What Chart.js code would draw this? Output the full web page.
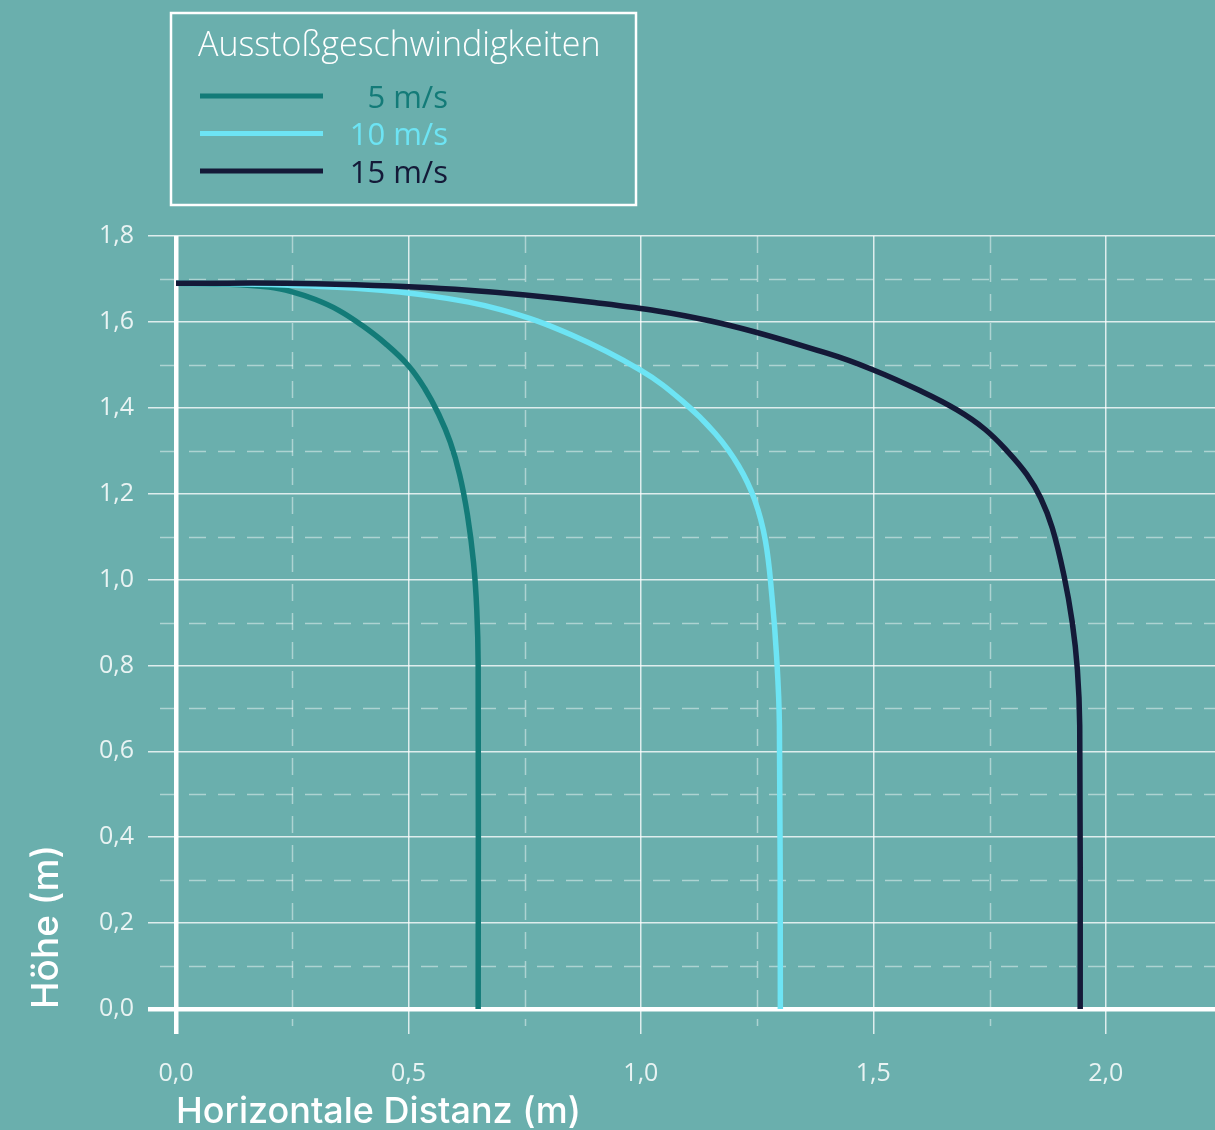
<!DOCTYPE html>
<html><head><meta charset="utf-8">
<script src="https://cdn.jsdelivr.net/npm/chart.js@4.4.1/dist/chart.umd.min.js"></script>
<style>html,body{margin:0;padding:0;background:#6aafad;}canvas{display:block}</style>
</head><body>
<canvas id="c" width="1215" height="1130"></canvas>
<script>
const legendTitle = 'Ausstoßgeschwindigkeiten';
const seriesLabels = ['5 m/s', '10 m/s', '15 m/s'];
const seriesColors = ['#137b78', '#6de4f4', '#141a38'];
const xTitle = 'Horizontale Distanz (m)';
const yTitle = 'Höhe (m)';
const xTicks = [0, 0.5, 1.0, 1.5, 2.0];
const xTickLabels = ['0,0', '0,5', '1,0', '1,5', '2,0'];
const yTicks = [0, 0.2, 0.4, 0.6, 0.8, 1.0, 1.2, 1.4, 1.6, 1.8];
const yTickLabels = ['0,0', '0,2', '0,4', '0,6', '0,8', '1,0', '1,2', '1,4', '1,6', '1,8'];
const xMinor = [0.25, 0.75, 1.25, 1.75];
const yMinor = [0.1, 0.3, 0.5, 0.7, 0.9, 1.1, 1.3, 1.5, 1.7];

// 5 m/s
const v5x = [0, 0.10, 0.20, 0.25, 0.30, 0.35, 0.40, 0.45, 0.50, 0.535, 0.565, 0.590, 0.610, 0.627, 0.640, 0.647, 0.650, 0.650];
const v5y = [1.69, 1.688, 1.681, 1.670, 1.652, 1.627, 1.592, 1.550, 1.498, 1.445, 1.385, 1.320, 1.245, 1.150, 1.040, 0.930, 0.800, 0.0];
// 10 m/s
const v10x = [0, 0.20, 0.40, 0.55, 0.70, 0.85, 1.00, 1.09, 1.16, 1.21, 1.245, 1.268, 1.282, 1.292, 1.298, 1.300];
const v10y = [1.69, 1.687, 1.677, 1.660, 1.628, 1.570, 1.487, 1.415, 1.340, 1.265, 1.185, 1.090, 0.960, 0.820, 0.660, 0.0];
// 15 m/s
const v15x = [0, 0.30, 0.60, 0.90, 1.15, 1.40, 1.50, 1.60, 1.68, 1.74, 1.79, 1.83, 1.86, 1.885, 1.910, 1.928, 1.939, 1.944, 1.945];
const v15y = [1.69, 1.689, 1.676, 1.645, 1.602, 1.527, 1.488, 1.440, 1.395, 1.350, 1.297, 1.245, 1.190, 1.120, 1.010, 0.900, 0.790, 0.660, 0.0];

const toPts = (xs, ys) => xs.map((x, i) => ({x: x, y: ys[i]}));
const seriesX = [v5x, v10x, v15x];
const seriesY = [v5y, v10y, v15y];

const tickFont = {family: '"Open Sans"', size: 25, weight: '400'};
const tickColor = 'rgba(255,255,255,0.85)';
const gridColor = (c) => (c.tick && c.tick.value === 0) ? '#ffffff' : 'rgba(255,255,255,0.78)';
const gridWidth = (c) => (c.tick && c.tick.value === 0) ? 4.5 : 1.5;

const minorGrid = {
  id: 'minorGrid',
  beforeDraw(chart) {
    const {ctx, chartArea: a, scales: {x, y}} = chart;
    ctx.save();
    ctx.strokeStyle = 'rgba(255,255,255,0.45)';
    ctx.lineWidth = 1.5;
    ctx.setLineDash([17, 12]);
    xMinor.forEach(v => {
      const px = Math.round(x.getPixelForValue(v)) + 0.5;
      ctx.beginPath(); ctx.moveTo(px, a.top); ctx.lineTo(px, a.bottom + 17); ctx.stroke();
    });
    yMinor.forEach(v => {
      const py = Math.round(y.getPixelForValue(v)) + 0.5;
      ctx.beginPath(); ctx.moveTo(a.left - 16, py); ctx.lineTo(a.right, py); ctx.stroke();
    });
    ctx.restore();
  }
};

const boxLegend = {
  id: 'boxLegend',
  afterDraw(chart) {
    const ctx = chart.ctx;
    ctx.save();
    ctx.strokeStyle = '#ffffff';
    ctx.lineWidth = 2.5;
    ctx.strokeRect(171, 13, 465, 192);
    ctx.fillStyle = '#ffffff';
    ctx.font = '300 34px "Open Sans"';
    ctx.textBaseline = 'alphabetic';
    ctx.textAlign = 'left';
    ctx.fillText(legendTitle, 198, 56);
    chart.data.datasets.forEach((ds, i) => {
      const yy = 96 + i * 37.5;
      ctx.strokeStyle = ds.borderColor;
      ctx.lineWidth = 5;
      ctx.beginPath(); ctx.moveTo(200, yy); ctx.lineTo(323, yy); ctx.stroke();
      ctx.fillStyle = ds.borderColor;
      ctx.font = '400 31px "Open Sans"';
      ctx.textAlign = 'right';
      ctx.fillText(ds.label, 448, yy + 11.5);
    });
    ctx.restore();
  }
};

const datasets = seriesLabels.map((lab, i) => ({
  label: lab,
  data: toPts(seriesX[i], seriesY[i]),
  borderColor: seriesColors[i],
  backgroundColor: seriesColors[i],
  borderWidth: 5.5,
  pointRadius: 0,
  showLine: true,
  fill: false,
  tension: 0.4,
  order: 2 - i
}));

new Chart(document.getElementById('c'), {
  type: 'scatter',
  data: {datasets},
  plugins: [minorGrid, boxLegend],
  options: {
    responsive: false,
    animation: false,
    layout: {padding: {top: 236, left: 0, right: 0, bottom: 0}},
    plugins: {legend: {display: false}, tooltip: {enabled: false}},
    scales: {
      x: {
        type: 'linear', min: 0, max: 2.235,
        afterBuildTicks: s => { s.ticks = xTicks.map(v => ({value: v})); },
        afterFit: s => { s.height = 121; },
        ticks: {callback: (v, i) => xTickLabels[i], padding: 25, maxRotation: 0, autoSkip: false, font: tickFont, color: tickColor},
        grid: {color: gridColor, lineWidth: gridWidth, tickLength: 25, drawTicks: true},
        border: {display: false},
        title: {display: true, text: xTitle, align: 'start', color: '#ffffff',
                font: {family: 'Inter', size: 36, weight: '500', lineHeight: 1.0}, padding: {top: 0, bottom: 0}}
      },
      y: {
        type: 'linear', min: 0, max: 1.8,
        afterBuildTicks: s => { s.ticks = yTicks.map(v => ({value: v})); },
        afterFit: s => { s.width = 176; },
        ticks: {callback: (v, i) => yTickLabels[i], padding: 14, autoSkip: false, font: tickFont, color: tickColor},
        grid: {color: gridColor, lineWidth: gridWidth, tickLength: 28, drawTicks: true},
        border: {display: false},
        title: {display: true, text: yTitle, align: 'start', color: '#ffffff',
                font: {family: 'Inter', size: 37, weight: '500'}, padding: {top: 25, bottom: 0}}
      }
    }
  }
});
</script>
</body></html>
